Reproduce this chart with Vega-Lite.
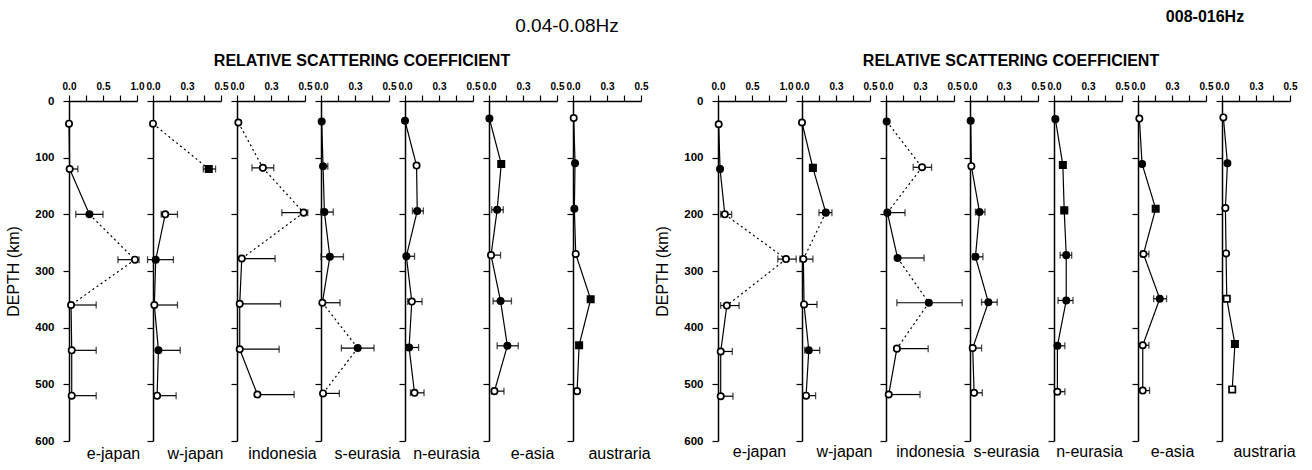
{
"$schema":"https://vega.github.io/schema/vega-lite/v6.json",
"padding":{"left":5,"top":9,"right":5,"bottom":5},
"config":{"background":"white","view":{"stroke":null},
"axis":{"grid":false,"domainColor":"black","tickColor":"black","labelColor":"black","titleColor":"black","labelFont":"Liberation Sans","titleFont":"Liberation Sans","domainWidth":1.5,"tickWidth":1.2,"tickSize":6},
"title":{"orient":"top","anchor":"middle","frame":"group","font":"Liberation Sans","color":"black"}},
"datasets":{"pts":[
{"band":"low","region":"e-japan","depth":40,"value":0.0,"marker":"open","link":"solid"},
{"band":"low","region":"e-japan","depth":120,"value":0.01,"lo":0.01,"hi":0.13,"marker":"open","link":"solid"},
{"band":"low","region":"e-japan","depth":200,"value":0.30,"lo":0.10,"hi":0.50,"marker":"filled","link":"dotted"},
{"band":"low","region":"e-japan","depth":280,"value":0.97,"lo":0.72,"hi":1.03,"marker":"open","link":"dotted"},
{"band":"low","region":"e-japan","depth":360,"value":0.03,"lo":0.03,"hi":0.40,"marker":"open","link":"solid"},
{"band":"low","region":"e-japan","depth":440,"value":0.04,"lo":0.04,"hi":0.40,"marker":"open","link":"solid"},
{"band":"low","region":"e-japan","depth":520,"value":0.04,"lo":0.04,"hi":0.40,"marker":"open","link":"none"},
{"band":"low","region":"w-japan","depth":40,"value":0.0,"marker":"open","link":"dotted"},
{"band":"low","region":"w-japan","depth":120,"value":0.41,"lo":0.37,"hi":0.46,"marker":"square","link":"none"},
{"band":"low","region":"w-japan","depth":200,"value":0.09,"lo":0.06,"hi":0.18,"marker":"open","link":"solid"},
{"band":"low","region":"w-japan","depth":280,"value":0.02,"lo":-0.04,"hi":0.15,"marker":"filled","link":"solid"},
{"band":"low","region":"w-japan","depth":360,"value":0.01,"lo":0.01,"hi":0.18,"marker":"open","link":"solid"},
{"band":"low","region":"w-japan","depth":440,"value":0.04,"lo":0.03,"hi":0.20,"marker":"filled","link":"solid"},
{"band":"low","region":"w-japan","depth":520,"value":0.03,"lo":0.03,"hi":0.17,"marker":"open","link":"none"},
{"band":"low","region":"indonesia","depth":38,"value":0.01,"marker":"open","link":"dotted"},
{"band":"low","region":"indonesia","depth":118,"value":0.19,"lo":0.11,"hi":0.27,"marker":"open","link":"dotted"},
{"band":"low","region":"indonesia","depth":197,"value":0.49,"lo":0.33,"hi":0.52,"marker":"open","link":"dotted"},
{"band":"low","region":"indonesia","depth":278,"value":0.035,"lo":0.035,"hi":0.28,"marker":"open","link":"solid"},
{"band":"low","region":"indonesia","depth":358,"value":0.02,"lo":0.02,"hi":0.32,"marker":"open","link":"solid"},
{"band":"low","region":"indonesia","depth":438,"value":0.02,"lo":0.02,"hi":0.31,"marker":"open","link":"solid"},
{"band":"low","region":"indonesia","depth":518,"value":0.15,"lo":0.15,"hi":0.42,"marker":"open","link":"none"},
{"band":"low","region":"s-eurasia","depth":36,"value":0.005,"marker":"filled","link":"solid"},
{"band":"low","region":"s-eurasia","depth":115,"value":0.015,"lo":0.015,"hi":0.05,"marker":"filled","link":"solid"},
{"band":"low","region":"s-eurasia","depth":196,"value":0.025,"lo":0.0,"hi":0.09,"marker":"filled","link":"solid"},
{"band":"low","region":"s-eurasia","depth":275,"value":0.065,"lo":0.0,"hi":0.165,"marker":"filled","link":"solid"},
{"band":"low","region":"s-eurasia","depth":356,"value":0.01,"lo":0.01,"hi":0.14,"marker":"open","link":"dotted"},
{"band":"low","region":"s-eurasia","depth":436,"value":0.27,"lo":0.15,"hi":0.39,"marker":"filled","link":"dotted"},
{"band":"low","region":"s-eurasia","depth":516,"value":0.015,"lo":0.015,"hi":0.135,"marker":"open","link":"none"},
{"band":"low","region":"n-eurasia","depth":35,"value":0.0,"marker":"filled","link":"solid"},
{"band":"low","region":"n-eurasia","depth":114,"value":0.085,"marker":"open","link":"solid"},
{"band":"low","region":"n-eurasia","depth":194,"value":0.09,"lo":0.055,"hi":0.135,"marker":"filled","link":"solid"},
{"band":"low","region":"n-eurasia","depth":274,"value":0.01,"lo":0.01,"hi":0.07,"marker":"filled","link":"solid"},
{"band":"low","region":"n-eurasia","depth":354,"value":0.05,"lo":0.02,"hi":0.125,"marker":"open","link":"solid"},
{"band":"low","region":"n-eurasia","depth":435,"value":0.03,"lo":0.01,"hi":0.10,"marker":"filled","link":"solid"},
{"band":"low","region":"n-eurasia","depth":515,"value":0.07,"lo":0.04,"hi":0.14,"marker":"open","link":"none"},
{"band":"low","region":"e-asia","depth":31,"value":0.003,"marker":"filled","link":"solid"},
{"band":"low","region":"e-asia","depth":111,"value":0.09,"marker":"square","link":"solid"},
{"band":"low","region":"e-asia","depth":192,"value":0.06,"lo":0.02,"hi":0.105,"marker":"filled","link":"solid"},
{"band":"low","region":"e-asia","depth":272,"value":0.015,"lo":0.015,"hi":0.085,"marker":"open","link":"solid"},
{"band":"low","region":"e-asia","depth":353,"value":0.085,"lo":0.03,"hi":0.165,"marker":"filled","link":"solid"},
{"band":"low","region":"e-asia","depth":432,"value":0.135,"lo":0.06,"hi":0.215,"marker":"filled","link":"solid"},
{"band":"low","region":"e-asia","depth":512,"value":0.04,"lo":0.02,"hi":0.11,"marker":"open","link":"none"},
{"band":"low","region":"austraria","depth":30,"value":0.005,"marker":"open","link":"solid"},
{"band":"low","region":"austraria","depth":110,"value":0.015,"marker":"filled","link":"solid"},
{"band":"low","region":"austraria","depth":190,"value":0.01,"marker":"filled","link":"solid"},
{"band":"low","region":"austraria","depth":270,"value":0.02,"marker":"open","link":"solid"},
{"band":"low","region":"austraria","depth":350,"value":0.13,"marker":"square","link":"solid"},
{"band":"low","region":"austraria","depth":431,"value":0.045,"marker":"square","link":"solid"},
{"band":"low","region":"austraria","depth":512,"value":0.03,"marker":"open","link":"none"},
{"band":"high","region":"e-japan","depth":41,"value":0.01,"marker":"open","link":"solid"},
{"band":"high","region":"e-japan","depth":120,"value":0.03,"lo":0.03,"hi":0.06,"marker":"filled","link":"solid"},
{"band":"high","region":"e-japan","depth":200,"value":0.10,"lo":0.04,"hi":0.20,"marker":"open","link":"dotted"},
{"band":"high","region":"e-japan","depth":279,"value":1.0,"lo":0.88,"hi":1.15,"marker":"open","link":"dotted"},
{"band":"high","region":"e-japan","depth":361,"value":0.13,"lo":0.04,"hi":0.31,"marker":"open","link":"solid"},
{"band":"high","region":"e-japan","depth":442,"value":0.04,"lo":0.04,"hi":0.21,"marker":"open","link":"solid"},
{"band":"high","region":"e-japan","depth":521,"value":0.04,"lo":0.04,"hi":0.22,"marker":"open","link":"none"},
{"band":"high","region":"w-japan","depth":38,"value":0.0,"marker":"open","link":"solid"},
{"band":"high","region":"w-japan","depth":118,"value":0.08,"marker":"square","link":"solid"},
{"band":"high","region":"w-japan","depth":197,"value":0.175,"lo":0.125,"hi":0.22,"marker":"filled","link":"dotted"},
{"band":"high","region":"w-japan","depth":279,"value":0.01,"lo":-0.015,"hi":0.08,"marker":"open","link":"solid"},
{"band":"high","region":"w-japan","depth":359,"value":0.015,"lo":0.015,"hi":0.11,"marker":"open","link":"solid"},
{"band":"high","region":"w-japan","depth":440,"value":0.05,"lo":0.02,"hi":0.13,"marker":"filled","link":"solid"},
{"band":"high","region":"w-japan","depth":520,"value":0.03,"lo":0.03,"hi":0.10,"marker":"open","link":"none"},
{"band":"high","region":"indonesia","depth":36,"value":0.005,"marker":"filled","link":"dotted"},
{"band":"high","region":"indonesia","depth":117,"value":0.265,"lo":0.2,"hi":0.335,"marker":"open","link":"dotted"},
{"band":"high","region":"indonesia","depth":197,"value":0.01,"lo":0.0,"hi":0.14,"marker":"filled","link":"solid"},
{"band":"high","region":"indonesia","depth":277,"value":0.085,"lo":0.085,"hi":0.28,"marker":"filled","link":"dotted"},
{"band":"high","region":"indonesia","depth":356,"value":0.315,"lo":0.08,"hi":0.56,"marker":"filled","link":"dotted"},
{"band":"high","region":"indonesia","depth":437,"value":0.08,"lo":0.08,"hi":0.31,"marker":"open","link":"solid"},
{"band":"high","region":"indonesia","depth":518,"value":0.02,"lo":0.02,"hi":0.25,"marker":"open","link":"none"},
{"band":"high","region":"s-eurasia","depth":35,"value":0.005,"marker":"filled","link":"solid"},
{"band":"high","region":"s-eurasia","depth":115,"value":0.01,"marker":"open","link":"solid"},
{"band":"high","region":"s-eurasia","depth":196,"value":0.07,"lo":0.04,"hi":0.11,"marker":"filled","link":"solid"},
{"band":"high","region":"s-eurasia","depth":275,"value":0.04,"lo":0.02,"hi":0.095,"marker":"filled","link":"solid"},
{"band":"high","region":"s-eurasia","depth":355,"value":0.135,"lo":0.085,"hi":0.2,"marker":"filled","link":"solid"},
{"band":"high","region":"s-eurasia","depth":436,"value":0.02,"lo":0.0,"hi":0.085,"marker":"open","link":"solid"},
{"band":"high","region":"s-eurasia","depth":515,"value":0.03,"lo":0.03,"hi":0.09,"marker":"open","link":"none"},
{"band":"high","region":"n-eurasia","depth":32,"value":0.01,"marker":"filled","link":"solid"},
{"band":"high","region":"n-eurasia","depth":113,"value":0.065,"marker":"square","link":"solid"},
{"band":"high","region":"n-eurasia","depth":193,"value":0.075,"lo":0.06,"hi":0.1,"marker":"square","link":"solid"},
{"band":"high","region":"n-eurasia","depth":272,"value":0.09,"lo":0.045,"hi":0.13,"marker":"filled","link":"solid"},
{"band":"high","region":"n-eurasia","depth":352,"value":0.09,"lo":0.03,"hi":0.14,"marker":"filled","link":"solid"},
{"band":"high","region":"n-eurasia","depth":432,"value":0.025,"lo":0.01,"hi":0.08,"marker":"filled","link":"solid"},
{"band":"high","region":"n-eurasia","depth":513,"value":0.025,"lo":0.01,"hi":0.08,"marker":"open","link":"none"},
{"band":"high","region":"e-asia","depth":31,"value":0.01,"marker":"open","link":"solid"},
{"band":"high","region":"e-asia","depth":111,"value":0.03,"marker":"filled","link":"solid"},
{"band":"high","region":"e-asia","depth":190,"value":0.13,"marker":"square","link":"solid"},
{"band":"high","region":"e-asia","depth":270,"value":0.04,"lo":0.02,"hi":0.08,"marker":"open","link":"solid"},
{"band":"high","region":"e-asia","depth":349,"value":0.16,"lo":0.115,"hi":0.21,"marker":"filled","link":"solid"},
{"band":"high","region":"e-asia","depth":431,"value":0.035,"lo":0.02,"hi":0.08,"marker":"open","link":"solid"},
{"band":"high","region":"e-asia","depth":511,"value":0.035,"lo":0.02,"hi":0.085,"marker":"open","link":"none"},
{"band":"high","region":"austraria","depth":29,"value":0.01,"marker":"open","link":"solid"},
{"band":"high","region":"austraria","depth":110,"value":0.04,"marker":"filled","link":"solid"},
{"band":"high","region":"austraria","depth":189,"value":0.025,"marker":"open","link":"solid"},
{"band":"high","region":"austraria","depth":269,"value":0.03,"marker":"open","link":"solid"},
{"band":"high","region":"austraria","depth":349,"value":0.035,"marker":"osquare","link":"solid"},
{"band":"high","region":"austraria","depth":429,"value":0.095,"marker":"square","link":"solid"},
{"band":"high","region":"austraria","depth":509,"value":0.075,"marker":"osquare","link":"none"}
]},
"data":{"name":"pts"},
"spacing":16,
"bounds":"flush",
"hconcat":[
{"width":68,"height":340,"transform":[{"filter":"datum.band=='low' && datum.region=='e-japan'"}],"resolve":{"axis":{"x":"independent"}},"layer":[
{"transform":[{"window":[{"op":"lead","field":"value","as":"v2"},{"op":"lead","field":"depth","as":"d2"}],"sort":[{"field":"depth"}]},{"filter":"datum.link!='none' && isValid(datum.v2)"}],"mark":{"type":"rule","color":"black","strokeWidth":1.2},"encoding":{"x":{"field":"value","type":"quantitative","title":null,"scale":{"domain":[0,1],"nice":false},"axis":{"orient":"top","values":[0,0.25,0.5,0.75,1],"labelExpr":"datum.value==0?'0.0':datum.value==0.5?'0.5':datum.value==1?'1.0':''","labelFontSize":10,"labelFontWeight":"bold","labelFlush":false,"labelOverlap":false,"labelBound":false,"labelPadding":4,"title":null}},"y":{"field":"depth","type":"quantitative","title":"DEPTH (km)","scale":{"domain":[0,600],"nice":false,"reverse":true},"axis":{"orient":"left","values":[0,100,200,300,400,500,600],"labelPadding":9,"labelFontSize":11.5,"labelFontWeight":"bold","title":"DEPTH (km)","titleFontSize":16,"titleFontWeight":"normal","titlePadding":13}},"x2":{"field":"v2"},"y2":{"field":"d2"},"strokeDash":{"field":"link","type":"nominal","scale":{"domain":["solid","dotted"],"range":[[1,0],[2,3]]},"legend":null}}},
{"transform":[{"filter":"isValid(datum.hi)"}],"mark":{"type":"rule","color":"black","strokeWidth":1.2},"encoding":{"x":{"field":"lo","type":"quantitative","axis":null},"x2":{"field":"hi"},"y":{"field":"depth","type":"quantitative"}}},
{"transform":[{"filter":"isValid(datum.hi)"}],"mark":{"type":"tick","orient":"vertical","color":"black","size":7,"thickness":1.3},"encoding":{"x":{"field":"lo","type":"quantitative","axis":null},"y":{"field":"depth","type":"quantitative"}}},
{"transform":[{"filter":"isValid(datum.hi)"}],"mark":{"type":"tick","orient":"vertical","color":"black","size":7,"thickness":1.3},"encoding":{"x":{"field":"hi","type":"quantitative","axis":null},"y":{"field":"depth","type":"quantitative"}}},
{"mark":{"type":"point","stroke":"black","strokeWidth":1.7,"size":40,"opacity":1},"encoding":{"x":{"field":"value","type":"quantitative","axis":{"orient":"bottom","title":"e-japan","domain":false,"ticks":false,"labels":false,"titleX":44,"titleAlign":"center","titlePadding":4,"titleFontSize":16,"titleFontWeight":"normal"}},"y":{"field":"depth","type":"quantitative"},"shape":{"field":"marker","type":"nominal","scale":{"domain":["open","filled","square","osquare"],"range":["circle","circle","square","square"]},"legend":null},"fill":{"field":"marker","type":"nominal","scale":{"domain":["open","filled","square","osquare"],"range":["white","black","black","white"]},"legend":null}}}]},
{"width":68,"height":340,"transform":[{"filter":"datum.band=='low' && datum.region=='w-japan'"}],"resolve":{"axis":{"x":"independent"}},"layer":[
{"transform":[{"window":[{"op":"lead","field":"value","as":"v2"},{"op":"lead","field":"depth","as":"d2"}],"sort":[{"field":"depth"}]},{"filter":"datum.link!='none' && isValid(datum.v2)"}],"mark":{"type":"rule","color":"black","strokeWidth":1.2},"encoding":{"x":{"field":"value","type":"quantitative","title":null,"scale":{"domain":[0,0.5],"nice":false},"axis":{"orient":"top","values":[0,0.125,0.25,0.375,0.5],"labelExpr":"datum.value==0?'0.0':datum.value==0.25?'0.3':datum.value==0.5?'0.5':''","labelFontSize":10,"labelFontWeight":"bold","labelFlush":false,"labelOverlap":false,"labelBound":false,"labelPadding":4,"title":null}},"y":{"field":"depth","type":"quantitative","title":null,"scale":{"domain":[0,600],"nice":false,"reverse":true},"axis":{"orient":"left","values":[0,100,200,300,400,500,600],"labels":false,"title":null}},"x2":{"field":"v2"},"y2":{"field":"d2"},"strokeDash":{"field":"link","type":"nominal","scale":{"domain":["solid","dotted"],"range":[[1,0],[2,3]]},"legend":null}}},
{"transform":[{"filter":"isValid(datum.hi)"}],"mark":{"type":"rule","color":"black","strokeWidth":1.2},"encoding":{"x":{"field":"lo","type":"quantitative","axis":null},"x2":{"field":"hi"},"y":{"field":"depth","type":"quantitative"}}},
{"transform":[{"filter":"isValid(datum.hi)"}],"mark":{"type":"tick","orient":"vertical","color":"black","size":7,"thickness":1.3},"encoding":{"x":{"field":"lo","type":"quantitative","axis":null},"y":{"field":"depth","type":"quantitative"}}},
{"transform":[{"filter":"isValid(datum.hi)"}],"mark":{"type":"tick","orient":"vertical","color":"black","size":7,"thickness":1.3},"encoding":{"x":{"field":"hi","type":"quantitative","axis":null},"y":{"field":"depth","type":"quantitative"}}},
{"mark":{"type":"point","stroke":"black","strokeWidth":1.7,"size":40,"opacity":1},"encoding":{"x":{"field":"value","type":"quantitative","axis":{"orient":"bottom","title":"w-japan","domain":false,"ticks":false,"labels":false,"titleX":42,"titleAlign":"center","titlePadding":4,"titleFontSize":16,"titleFontWeight":"normal"}},"y":{"field":"depth","type":"quantitative"},"shape":{"field":"marker","type":"nominal","scale":{"domain":["open","filled","square","osquare"],"range":["circle","circle","square","square"]},"legend":null},"fill":{"field":"marker","type":"nominal","scale":{"domain":["open","filled","square","osquare"],"range":["white","black","black","white"]},"legend":null}}}]},
{"width":68,"height":340,"transform":[{"filter":"datum.band=='low' && datum.region=='indonesia'"}],"resolve":{"axis":{"x":"independent"}},"layer":[
{"transform":[{"window":[{"op":"lead","field":"value","as":"v2"},{"op":"lead","field":"depth","as":"d2"}],"sort":[{"field":"depth"}]},{"filter":"datum.link!='none' && isValid(datum.v2)"}],"mark":{"type":"rule","color":"black","strokeWidth":1.2},"encoding":{"x":{"field":"value","type":"quantitative","title":null,"scale":{"domain":[0,0.5],"nice":false},"axis":{"orient":"top","values":[0,0.125,0.25,0.375,0.5],"labelExpr":"datum.value==0?'0.0':datum.value==0.25?'0.3':datum.value==0.5?'0.5':''","labelFontSize":10,"labelFontWeight":"bold","labelFlush":false,"labelOverlap":false,"labelBound":false,"labelPadding":4,"title":null}},"y":{"field":"depth","type":"quantitative","title":null,"scale":{"domain":[0,600],"nice":false,"reverse":true},"axis":{"orient":"left","values":[0,100,200,300,400,500,600],"labels":false,"title":null}},"x2":{"field":"v2"},"y2":{"field":"d2"},"strokeDash":{"field":"link","type":"nominal","scale":{"domain":["solid","dotted"],"range":[[1,0],[2,3]]},"legend":null}}},
{"transform":[{"filter":"isValid(datum.hi)"}],"mark":{"type":"rule","color":"black","strokeWidth":1.2},"encoding":{"x":{"field":"lo","type":"quantitative","axis":null},"x2":{"field":"hi"},"y":{"field":"depth","type":"quantitative"}}},
{"transform":[{"filter":"isValid(datum.hi)"}],"mark":{"type":"tick","orient":"vertical","color":"black","size":7,"thickness":1.3},"encoding":{"x":{"field":"lo","type":"quantitative","axis":null},"y":{"field":"depth","type":"quantitative"}}},
{"transform":[{"filter":"isValid(datum.hi)"}],"mark":{"type":"tick","orient":"vertical","color":"black","size":7,"thickness":1.3},"encoding":{"x":{"field":"hi","type":"quantitative","axis":null},"y":{"field":"depth","type":"quantitative"}}},
{"mark":{"type":"point","stroke":"black","strokeWidth":1.7,"size":40,"opacity":1},"encoding":{"x":{"field":"value","type":"quantitative","axis":{"orient":"bottom","title":"indonesia","domain":false,"ticks":false,"labels":false,"titleX":45,"titleAlign":"center","titlePadding":4,"titleFontSize":16,"titleFontWeight":"normal"}},"y":{"field":"depth","type":"quantitative"},"shape":{"field":"marker","type":"nominal","scale":{"domain":["open","filled","square","osquare"],"range":["circle","circle","square","square"]},"legend":null},"fill":{"field":"marker","type":"nominal","scale":{"domain":["open","filled","square","osquare"],"range":["white","black","black","white"]},"legend":null}}}]},
{"width":68,"height":340,"title":{"text":"RELATIVE SCATTERING COEFFICIENT","dx":7,"offset":12,"fontSize":16,"fontWeight":"bold"},"transform":[{"filter":"datum.band=='low' && datum.region=='s-eurasia'"}],"resolve":{"axis":{"x":"independent"}},"layer":[
{"transform":[{"window":[{"op":"lead","field":"value","as":"v2"},{"op":"lead","field":"depth","as":"d2"}],"sort":[{"field":"depth"}]},{"filter":"datum.link!='none' && isValid(datum.v2)"}],"mark":{"type":"rule","color":"black","strokeWidth":1.2},"encoding":{"x":{"field":"value","type":"quantitative","title":null,"scale":{"domain":[0,0.5],"nice":false},"axis":{"orient":"top","values":[0,0.125,0.25,0.375,0.5],"labelExpr":"datum.value==0?'0.0':datum.value==0.25?'0.3':datum.value==0.5?'0.5':''","labelFontSize":10,"labelFontWeight":"bold","labelFlush":false,"labelOverlap":false,"labelBound":false,"labelPadding":4,"title":null}},"y":{"field":"depth","type":"quantitative","title":null,"scale":{"domain":[0,600],"nice":false,"reverse":true},"axis":{"orient":"left","values":[0,100,200,300,400,500,600],"labels":false,"title":null}},"x2":{"field":"v2"},"y2":{"field":"d2"},"strokeDash":{"field":"link","type":"nominal","scale":{"domain":["solid","dotted"],"range":[[1,0],[2,3]]},"legend":null}}},
{"transform":[{"filter":"isValid(datum.hi)"}],"mark":{"type":"rule","color":"black","strokeWidth":1.2},"encoding":{"x":{"field":"lo","type":"quantitative","axis":null},"x2":{"field":"hi"},"y":{"field":"depth","type":"quantitative"}}},
{"transform":[{"filter":"isValid(datum.hi)"}],"mark":{"type":"tick","orient":"vertical","color":"black","size":7,"thickness":1.3},"encoding":{"x":{"field":"lo","type":"quantitative","axis":null},"y":{"field":"depth","type":"quantitative"}}},
{"transform":[{"filter":"isValid(datum.hi)"}],"mark":{"type":"tick","orient":"vertical","color":"black","size":7,"thickness":1.3},"encoding":{"x":{"field":"hi","type":"quantitative","axis":null},"y":{"field":"depth","type":"quantitative"}}},
{"mark":{"type":"point","stroke":"black","strokeWidth":1.7,"size":40,"opacity":1},"encoding":{"x":{"field":"value","type":"quantitative","axis":{"orient":"bottom","title":"s-eurasia","domain":false,"ticks":false,"labels":false,"titleX":46,"titleAlign":"center","titlePadding":4,"titleFontSize":16,"titleFontWeight":"normal"}},"y":{"field":"depth","type":"quantitative"},"shape":{"field":"marker","type":"nominal","scale":{"domain":["open","filled","square","osquare"],"range":["circle","circle","square","square"]},"legend":null},"fill":{"field":"marker","type":"nominal","scale":{"domain":["open","filled","square","osquare"],"range":["white","black","black","white"]},"legend":null}}}]},
{"width":68,"height":340,"transform":[{"filter":"datum.band=='low' && datum.region=='n-eurasia'"}],"resolve":{"axis":{"x":"independent"}},"layer":[
{"transform":[{"window":[{"op":"lead","field":"value","as":"v2"},{"op":"lead","field":"depth","as":"d2"}],"sort":[{"field":"depth"}]},{"filter":"datum.link!='none' && isValid(datum.v2)"}],"mark":{"type":"rule","color":"black","strokeWidth":1.2},"encoding":{"x":{"field":"value","type":"quantitative","title":null,"scale":{"domain":[0,0.5],"nice":false},"axis":{"orient":"top","values":[0,0.125,0.25,0.375,0.5],"labelExpr":"datum.value==0?'0.0':datum.value==0.25?'0.3':datum.value==0.5?'0.5':''","labelFontSize":10,"labelFontWeight":"bold","labelFlush":false,"labelOverlap":false,"labelBound":false,"labelPadding":4,"title":null}},"y":{"field":"depth","type":"quantitative","title":null,"scale":{"domain":[0,600],"nice":false,"reverse":true},"axis":{"orient":"left","values":[0,100,200,300,400,500,600],"labels":false,"title":null}},"x2":{"field":"v2"},"y2":{"field":"d2"},"strokeDash":{"field":"link","type":"nominal","scale":{"domain":["solid","dotted"],"range":[[1,0],[2,3]]},"legend":null}}},
{"transform":[{"filter":"isValid(datum.hi)"}],"mark":{"type":"rule","color":"black","strokeWidth":1.2},"encoding":{"x":{"field":"lo","type":"quantitative","axis":null},"x2":{"field":"hi"},"y":{"field":"depth","type":"quantitative"}}},
{"transform":[{"filter":"isValid(datum.hi)"}],"mark":{"type":"tick","orient":"vertical","color":"black","size":7,"thickness":1.3},"encoding":{"x":{"field":"lo","type":"quantitative","axis":null},"y":{"field":"depth","type":"quantitative"}}},
{"transform":[{"filter":"isValid(datum.hi)"}],"mark":{"type":"tick","orient":"vertical","color":"black","size":7,"thickness":1.3},"encoding":{"x":{"field":"hi","type":"quantitative","axis":null},"y":{"field":"depth","type":"quantitative"}}},
{"mark":{"type":"point","stroke":"black","strokeWidth":1.7,"size":40,"opacity":1},"encoding":{"x":{"field":"value","type":"quantitative","axis":{"orient":"bottom","title":"n-eurasia","domain":false,"ticks":false,"labels":false,"titleX":41,"titleAlign":"center","titlePadding":4,"titleFontSize":16,"titleFontWeight":"normal"}},"y":{"field":"depth","type":"quantitative"},"shape":{"field":"marker","type":"nominal","scale":{"domain":["open","filled","square","osquare"],"range":["circle","circle","square","square"]},"legend":null},"fill":{"field":"marker","type":"nominal","scale":{"domain":["open","filled","square","osquare"],"range":["white","black","black","white"]},"legend":null}}}]},
{"width":68,"height":340,"title":{"text":"0.04-0.08Hz","dx":44,"offset":45,"fontSize":19,"fontWeight":"normal"},"transform":[{"filter":"datum.band=='low' && datum.region=='e-asia'"}],"resolve":{"axis":{"x":"independent"}},"layer":[
{"transform":[{"window":[{"op":"lead","field":"value","as":"v2"},{"op":"lead","field":"depth","as":"d2"}],"sort":[{"field":"depth"}]},{"filter":"datum.link!='none' && isValid(datum.v2)"}],"mark":{"type":"rule","color":"black","strokeWidth":1.2},"encoding":{"x":{"field":"value","type":"quantitative","title":null,"scale":{"domain":[0,0.5],"nice":false},"axis":{"orient":"top","values":[0,0.125,0.25,0.375,0.5],"labelExpr":"datum.value==0?'0.0':datum.value==0.25?'0.3':datum.value==0.5?'0.5':''","labelFontSize":10,"labelFontWeight":"bold","labelFlush":false,"labelOverlap":false,"labelBound":false,"labelPadding":4,"title":null}},"y":{"field":"depth","type":"quantitative","title":null,"scale":{"domain":[0,600],"nice":false,"reverse":true},"axis":{"orient":"left","values":[0,100,200,300,400,500,600],"labels":false,"title":null}},"x2":{"field":"v2"},"y2":{"field":"d2"},"strokeDash":{"field":"link","type":"nominal","scale":{"domain":["solid","dotted"],"range":[[1,0],[2,3]]},"legend":null}}},
{"transform":[{"filter":"isValid(datum.hi)"}],"mark":{"type":"rule","color":"black","strokeWidth":1.2},"encoding":{"x":{"field":"lo","type":"quantitative","axis":null},"x2":{"field":"hi"},"y":{"field":"depth","type":"quantitative"}}},
{"transform":[{"filter":"isValid(datum.hi)"}],"mark":{"type":"tick","orient":"vertical","color":"black","size":7,"thickness":1.3},"encoding":{"x":{"field":"lo","type":"quantitative","axis":null},"y":{"field":"depth","type":"quantitative"}}},
{"transform":[{"filter":"isValid(datum.hi)"}],"mark":{"type":"tick","orient":"vertical","color":"black","size":7,"thickness":1.3},"encoding":{"x":{"field":"hi","type":"quantitative","axis":null},"y":{"field":"depth","type":"quantitative"}}},
{"mark":{"type":"point","stroke":"black","strokeWidth":1.7,"size":40,"opacity":1},"encoding":{"x":{"field":"value","type":"quantitative","axis":{"orient":"bottom","title":"e-asia","domain":false,"ticks":false,"labels":false,"titleX":43,"titleAlign":"center","titlePadding":4,"titleFontSize":16,"titleFontWeight":"normal"}},"y":{"field":"depth","type":"quantitative"},"shape":{"field":"marker","type":"nominal","scale":{"domain":["open","filled","square","osquare"],"range":["circle","circle","square","square"]},"legend":null},"fill":{"field":"marker","type":"nominal","scale":{"domain":["open","filled","square","osquare"],"range":["white","black","black","white"]},"legend":null}}}]},
{"width":68,"height":340,"transform":[{"filter":"datum.band=='low' && datum.region=='austraria'"}],"resolve":{"axis":{"x":"independent"}},"layer":[
{"transform":[{"window":[{"op":"lead","field":"value","as":"v2"},{"op":"lead","field":"depth","as":"d2"}],"sort":[{"field":"depth"}]},{"filter":"datum.link!='none' && isValid(datum.v2)"}],"mark":{"type":"rule","color":"black","strokeWidth":1.2},"encoding":{"x":{"field":"value","type":"quantitative","title":null,"scale":{"domain":[0,0.5],"nice":false},"axis":{"orient":"top","values":[0,0.125,0.25,0.375,0.5],"labelExpr":"datum.value==0?'0.0':datum.value==0.25?'0.3':datum.value==0.5?'0.5':''","labelFontSize":10,"labelFontWeight":"bold","labelFlush":false,"labelOverlap":false,"labelBound":false,"labelPadding":4,"title":null}},"y":{"field":"depth","type":"quantitative","title":null,"scale":{"domain":[0,600],"nice":false,"reverse":true},"axis":{"orient":"left","values":[0,100,200,300,400,500,600],"labels":false,"title":null}},"x2":{"field":"v2"},"y2":{"field":"d2"},"strokeDash":{"field":"link","type":"nominal","scale":{"domain":["solid","dotted"],"range":[[1,0],[2,3]]},"legend":null}}},
{"transform":[{"filter":"isValid(datum.hi)"}],"mark":{"type":"rule","color":"black","strokeWidth":1.2},"encoding":{"x":{"field":"lo","type":"quantitative","axis":null},"x2":{"field":"hi"},"y":{"field":"depth","type":"quantitative"}}},
{"transform":[{"filter":"isValid(datum.hi)"}],"mark":{"type":"tick","orient":"vertical","color":"black","size":7,"thickness":1.3},"encoding":{"x":{"field":"lo","type":"quantitative","axis":null},"y":{"field":"depth","type":"quantitative"}}},
{"transform":[{"filter":"isValid(datum.hi)"}],"mark":{"type":"tick","orient":"vertical","color":"black","size":7,"thickness":1.3},"encoding":{"x":{"field":"hi","type":"quantitative","axis":null},"y":{"field":"depth","type":"quantitative"}}},
{"mark":{"type":"point","stroke":"black","strokeWidth":1.7,"size":40,"opacity":1},"encoding":{"x":{"field":"value","type":"quantitative","axis":{"orient":"bottom","title":"austraria","domain":false,"ticks":false,"labels":false,"titleX":46,"titleAlign":"center","titlePadding":4,"titleFontSize":16,"titleFontWeight":"normal"}},"y":{"field":"depth","type":"quantitative"},"shape":{"field":"marker","type":"nominal","scale":{"domain":["open","filled","square","osquare"],"range":["circle","circle","square","square"]},"legend":null},"fill":{"field":"marker","type":"nominal","scale":{"domain":["open","filled","square","osquare"],"range":["white","black","black","white"]},"legend":null}}}]},
{"width":45,"height":340,"data":{"values":[]},"mark":"point"},
{"width":68,"height":340,"transform":[{"filter":"datum.band=='high' && datum.region=='e-japan'"}],"resolve":{"axis":{"x":"independent"}},"layer":[
{"transform":[{"window":[{"op":"lead","field":"value","as":"v2"},{"op":"lead","field":"depth","as":"d2"}],"sort":[{"field":"depth"}]},{"filter":"datum.link!='none' && isValid(datum.v2)"}],"mark":{"type":"rule","color":"black","strokeWidth":1.2},"encoding":{"x":{"field":"value","type":"quantitative","title":null,"scale":{"domain":[0,1],"nice":false},"axis":{"orient":"top","values":[0,0.25,0.5,0.75,1],"labelExpr":"datum.value==0?'0.0':datum.value==0.5?'0.5':datum.value==1?'1.0':''","labelFontSize":10,"labelFontWeight":"bold","labelFlush":false,"labelOverlap":false,"labelBound":false,"labelPadding":4,"title":null}},"y":{"field":"depth","type":"quantitative","title":"DEPTH (km)","scale":{"domain":[0,600],"nice":false,"reverse":true},"axis":{"orient":"left","values":[0,100,200,300,400,500,600],"labelPadding":9,"labelFontSize":11.5,"labelFontWeight":"bold","title":"DEPTH (km)","titleFontSize":16,"titleFontWeight":"normal","titlePadding":13}},"x2":{"field":"v2"},"y2":{"field":"d2"},"strokeDash":{"field":"link","type":"nominal","scale":{"domain":["solid","dotted"],"range":[[1,0],[2,3]]},"legend":null}}},
{"transform":[{"filter":"isValid(datum.hi)"}],"mark":{"type":"rule","color":"black","strokeWidth":1.2},"encoding":{"x":{"field":"lo","type":"quantitative","axis":null},"x2":{"field":"hi"},"y":{"field":"depth","type":"quantitative"}}},
{"transform":[{"filter":"isValid(datum.hi)"}],"mark":{"type":"tick","orient":"vertical","color":"black","size":7,"thickness":1.3},"encoding":{"x":{"field":"lo","type":"quantitative","axis":null},"y":{"field":"depth","type":"quantitative"}}},
{"transform":[{"filter":"isValid(datum.hi)"}],"mark":{"type":"tick","orient":"vertical","color":"black","size":7,"thickness":1.3},"encoding":{"x":{"field":"hi","type":"quantitative","axis":null},"y":{"field":"depth","type":"quantitative"}}},
{"mark":{"type":"point","stroke":"black","strokeWidth":1.7,"size":40,"opacity":1},"encoding":{"x":{"field":"value","type":"quantitative","axis":{"orient":"bottom","title":"e-japan","domain":false,"ticks":false,"labels":false,"titleX":41,"titleAlign":"center","titlePadding":2,"titleFontSize":16,"titleFontWeight":"normal"}},"y":{"field":"depth","type":"quantitative"},"shape":{"field":"marker","type":"nominal","scale":{"domain":["open","filled","square","osquare"],"range":["circle","circle","square","square"]},"legend":null},"fill":{"field":"marker","type":"nominal","scale":{"domain":["open","filled","square","osquare"],"range":["white","black","black","white"]},"legend":null}}}]},
{"width":68,"height":340,"transform":[{"filter":"datum.band=='high' && datum.region=='w-japan'"}],"resolve":{"axis":{"x":"independent"}},"layer":[
{"transform":[{"window":[{"op":"lead","field":"value","as":"v2"},{"op":"lead","field":"depth","as":"d2"}],"sort":[{"field":"depth"}]},{"filter":"datum.link!='none' && isValid(datum.v2)"}],"mark":{"type":"rule","color":"black","strokeWidth":1.2},"encoding":{"x":{"field":"value","type":"quantitative","title":null,"scale":{"domain":[0,0.5],"nice":false},"axis":{"orient":"top","values":[0,0.125,0.25,0.375,0.5],"labelExpr":"datum.value==0?'0.0':datum.value==0.25?'0.3':datum.value==0.5?'0.5':''","labelFontSize":10,"labelFontWeight":"bold","labelFlush":false,"labelOverlap":false,"labelBound":false,"labelPadding":4,"title":null}},"y":{"field":"depth","type":"quantitative","title":null,"scale":{"domain":[0,600],"nice":false,"reverse":true},"axis":{"orient":"left","values":[0,100,200,300,400,500,600],"labels":false,"title":null}},"x2":{"field":"v2"},"y2":{"field":"d2"},"strokeDash":{"field":"link","type":"nominal","scale":{"domain":["solid","dotted"],"range":[[1,0],[2,3]]},"legend":null}}},
{"transform":[{"filter":"isValid(datum.hi)"}],"mark":{"type":"rule","color":"black","strokeWidth":1.2},"encoding":{"x":{"field":"lo","type":"quantitative","axis":null},"x2":{"field":"hi"},"y":{"field":"depth","type":"quantitative"}}},
{"transform":[{"filter":"isValid(datum.hi)"}],"mark":{"type":"tick","orient":"vertical","color":"black","size":7,"thickness":1.3},"encoding":{"x":{"field":"lo","type":"quantitative","axis":null},"y":{"field":"depth","type":"quantitative"}}},
{"transform":[{"filter":"isValid(datum.hi)"}],"mark":{"type":"tick","orient":"vertical","color":"black","size":7,"thickness":1.3},"encoding":{"x":{"field":"hi","type":"quantitative","axis":null},"y":{"field":"depth","type":"quantitative"}}},
{"mark":{"type":"point","stroke":"black","strokeWidth":1.7,"size":40,"opacity":1},"encoding":{"x":{"field":"value","type":"quantitative","axis":{"orient":"bottom","title":"w-japan","domain":false,"ticks":false,"labels":false,"titleX":42,"titleAlign":"center","titlePadding":2,"titleFontSize":16,"titleFontWeight":"normal"}},"y":{"field":"depth","type":"quantitative"},"shape":{"field":"marker","type":"nominal","scale":{"domain":["open","filled","square","osquare"],"range":["circle","circle","square","square"]},"legend":null},"fill":{"field":"marker","type":"nominal","scale":{"domain":["open","filled","square","osquare"],"range":["white","black","black","white"]},"legend":null}}}]},
{"width":68,"height":340,"transform":[{"filter":"datum.band=='high' && datum.region=='indonesia'"}],"resolve":{"axis":{"x":"independent"}},"layer":[
{"transform":[{"window":[{"op":"lead","field":"value","as":"v2"},{"op":"lead","field":"depth","as":"d2"}],"sort":[{"field":"depth"}]},{"filter":"datum.link!='none' && isValid(datum.v2)"}],"mark":{"type":"rule","color":"black","strokeWidth":1.2},"encoding":{"x":{"field":"value","type":"quantitative","title":null,"scale":{"domain":[0,0.5],"nice":false},"axis":{"orient":"top","values":[0,0.125,0.25,0.375,0.5],"labelExpr":"datum.value==0?'0.0':datum.value==0.25?'0.3':datum.value==0.5?'0.5':''","labelFontSize":10,"labelFontWeight":"bold","labelFlush":false,"labelOverlap":false,"labelBound":false,"labelPadding":4,"title":null}},"y":{"field":"depth","type":"quantitative","title":null,"scale":{"domain":[0,600],"nice":false,"reverse":true},"axis":{"orient":"left","values":[0,100,200,300,400,500,600],"labels":false,"title":null}},"x2":{"field":"v2"},"y2":{"field":"d2"},"strokeDash":{"field":"link","type":"nominal","scale":{"domain":["solid","dotted"],"range":[[1,0],[2,3]]},"legend":null}}},
{"transform":[{"filter":"isValid(datum.hi)"}],"mark":{"type":"rule","color":"black","strokeWidth":1.2},"encoding":{"x":{"field":"lo","type":"quantitative","axis":null},"x2":{"field":"hi"},"y":{"field":"depth","type":"quantitative"}}},
{"transform":[{"filter":"isValid(datum.hi)"}],"mark":{"type":"tick","orient":"vertical","color":"black","size":7,"thickness":1.3},"encoding":{"x":{"field":"lo","type":"quantitative","axis":null},"y":{"field":"depth","type":"quantitative"}}},
{"transform":[{"filter":"isValid(datum.hi)"}],"mark":{"type":"tick","orient":"vertical","color":"black","size":7,"thickness":1.3},"encoding":{"x":{"field":"hi","type":"quantitative","axis":null},"y":{"field":"depth","type":"quantitative"}}},
{"mark":{"type":"point","stroke":"black","strokeWidth":1.7,"size":40,"opacity":1},"encoding":{"x":{"field":"value","type":"quantitative","axis":{"orient":"bottom","title":"indonesia","domain":false,"ticks":false,"labels":false,"titleX":44,"titleAlign":"center","titlePadding":2,"titleFontSize":16,"titleFontWeight":"normal"}},"y":{"field":"depth","type":"quantitative"},"shape":{"field":"marker","type":"nominal","scale":{"domain":["open","filled","square","osquare"],"range":["circle","circle","square","square"]},"legend":null},"fill":{"field":"marker","type":"nominal","scale":{"domain":["open","filled","square","osquare"],"range":["white","black","black","white"]},"legend":null}}}]},
{"width":68,"height":340,"title":{"text":"RELATIVE SCATTERING COEFFICIENT","dx":7,"offset":12,"fontSize":16,"fontWeight":"bold"},"transform":[{"filter":"datum.band=='high' && datum.region=='s-eurasia'"}],"resolve":{"axis":{"x":"independent"}},"layer":[
{"transform":[{"window":[{"op":"lead","field":"value","as":"v2"},{"op":"lead","field":"depth","as":"d2"}],"sort":[{"field":"depth"}]},{"filter":"datum.link!='none' && isValid(datum.v2)"}],"mark":{"type":"rule","color":"black","strokeWidth":1.2},"encoding":{"x":{"field":"value","type":"quantitative","title":null,"scale":{"domain":[0,0.5],"nice":false},"axis":{"orient":"top","values":[0,0.125,0.25,0.375,0.5],"labelExpr":"datum.value==0?'0.0':datum.value==0.25?'0.3':datum.value==0.5?'0.5':''","labelFontSize":10,"labelFontWeight":"bold","labelFlush":false,"labelOverlap":false,"labelBound":false,"labelPadding":4,"title":null}},"y":{"field":"depth","type":"quantitative","title":null,"scale":{"domain":[0,600],"nice":false,"reverse":true},"axis":{"orient":"left","values":[0,100,200,300,400,500,600],"labels":false,"title":null}},"x2":{"field":"v2"},"y2":{"field":"d2"},"strokeDash":{"field":"link","type":"nominal","scale":{"domain":["solid","dotted"],"range":[[1,0],[2,3]]},"legend":null}}},
{"transform":[{"filter":"isValid(datum.hi)"}],"mark":{"type":"rule","color":"black","strokeWidth":1.2},"encoding":{"x":{"field":"lo","type":"quantitative","axis":null},"x2":{"field":"hi"},"y":{"field":"depth","type":"quantitative"}}},
{"transform":[{"filter":"isValid(datum.hi)"}],"mark":{"type":"tick","orient":"vertical","color":"black","size":7,"thickness":1.3},"encoding":{"x":{"field":"lo","type":"quantitative","axis":null},"y":{"field":"depth","type":"quantitative"}}},
{"transform":[{"filter":"isValid(datum.hi)"}],"mark":{"type":"tick","orient":"vertical","color":"black","size":7,"thickness":1.3},"encoding":{"x":{"field":"hi","type":"quantitative","axis":null},"y":{"field":"depth","type":"quantitative"}}},
{"mark":{"type":"point","stroke":"black","strokeWidth":1.7,"size":40,"opacity":1},"encoding":{"x":{"field":"value","type":"quantitative","axis":{"orient":"bottom","title":"s-eurasia","domain":false,"ticks":false,"labels":false,"titleX":36,"titleAlign":"center","titlePadding":2,"titleFontSize":16,"titleFontWeight":"normal"}},"y":{"field":"depth","type":"quantitative"},"shape":{"field":"marker","type":"nominal","scale":{"domain":["open","filled","square","osquare"],"range":["circle","circle","square","square"]},"legend":null},"fill":{"field":"marker","type":"nominal","scale":{"domain":["open","filled","square","osquare"],"range":["white","black","black","white"]},"legend":null}}}]},
{"width":68,"height":340,"transform":[{"filter":"datum.band=='high' && datum.region=='n-eurasia'"}],"resolve":{"axis":{"x":"independent"}},"layer":[
{"transform":[{"window":[{"op":"lead","field":"value","as":"v2"},{"op":"lead","field":"depth","as":"d2"}],"sort":[{"field":"depth"}]},{"filter":"datum.link!='none' && isValid(datum.v2)"}],"mark":{"type":"rule","color":"black","strokeWidth":1.2},"encoding":{"x":{"field":"value","type":"quantitative","title":null,"scale":{"domain":[0,0.5],"nice":false},"axis":{"orient":"top","values":[0,0.125,0.25,0.375,0.5],"labelExpr":"datum.value==0?'0.0':datum.value==0.25?'0.3':datum.value==0.5?'0.5':''","labelFontSize":10,"labelFontWeight":"bold","labelFlush":false,"labelOverlap":false,"labelBound":false,"labelPadding":4,"title":null}},"y":{"field":"depth","type":"quantitative","title":null,"scale":{"domain":[0,600],"nice":false,"reverse":true},"axis":{"orient":"left","values":[0,100,200,300,400,500,600],"labels":false,"title":null}},"x2":{"field":"v2"},"y2":{"field":"d2"},"strokeDash":{"field":"link","type":"nominal","scale":{"domain":["solid","dotted"],"range":[[1,0],[2,3]]},"legend":null}}},
{"transform":[{"filter":"isValid(datum.hi)"}],"mark":{"type":"rule","color":"black","strokeWidth":1.2},"encoding":{"x":{"field":"lo","type":"quantitative","axis":null},"x2":{"field":"hi"},"y":{"field":"depth","type":"quantitative"}}},
{"transform":[{"filter":"isValid(datum.hi)"}],"mark":{"type":"tick","orient":"vertical","color":"black","size":7,"thickness":1.3},"encoding":{"x":{"field":"lo","type":"quantitative","axis":null},"y":{"field":"depth","type":"quantitative"}}},
{"transform":[{"filter":"isValid(datum.hi)"}],"mark":{"type":"tick","orient":"vertical","color":"black","size":7,"thickness":1.3},"encoding":{"x":{"field":"hi","type":"quantitative","axis":null},"y":{"field":"depth","type":"quantitative"}}},
{"mark":{"type":"point","stroke":"black","strokeWidth":1.7,"size":40,"opacity":1},"encoding":{"x":{"field":"value","type":"quantitative","axis":{"orient":"bottom","title":"n-eurasia","domain":false,"ticks":false,"labels":false,"titleX":35,"titleAlign":"center","titlePadding":2,"titleFontSize":16,"titleFontWeight":"normal"}},"y":{"field":"depth","type":"quantitative"},"shape":{"field":"marker","type":"nominal","scale":{"domain":["open","filled","square","osquare"],"range":["circle","circle","square","square"]},"legend":null},"fill":{"field":"marker","type":"nominal","scale":{"domain":["open","filled","square","osquare"],"range":["white","black","black","white"]},"legend":null}}}]},
{"width":68,"height":340,"title":{"text":"008-016Hz","dx":33,"offset":56,"fontSize":16,"fontWeight":"bold"},"transform":[{"filter":"datum.band=='high' && datum.region=='e-asia'"}],"resolve":{"axis":{"x":"independent"}},"layer":[
{"transform":[{"window":[{"op":"lead","field":"value","as":"v2"},{"op":"lead","field":"depth","as":"d2"}],"sort":[{"field":"depth"}]},{"filter":"datum.link!='none' && isValid(datum.v2)"}],"mark":{"type":"rule","color":"black","strokeWidth":1.2},"encoding":{"x":{"field":"value","type":"quantitative","title":null,"scale":{"domain":[0,0.5],"nice":false},"axis":{"orient":"top","values":[0,0.125,0.25,0.375,0.5],"labelExpr":"datum.value==0?'0.0':datum.value==0.25?'0.3':datum.value==0.5?'0.5':''","labelFontSize":10,"labelFontWeight":"bold","labelFlush":false,"labelOverlap":false,"labelBound":false,"labelPadding":4,"title":null}},"y":{"field":"depth","type":"quantitative","title":null,"scale":{"domain":[0,600],"nice":false,"reverse":true},"axis":{"orient":"left","values":[0,100,200,300,400,500,600],"labels":false,"title":null}},"x2":{"field":"v2"},"y2":{"field":"d2"},"strokeDash":{"field":"link","type":"nominal","scale":{"domain":["solid","dotted"],"range":[[1,0],[2,3]]},"legend":null}}},
{"transform":[{"filter":"isValid(datum.hi)"}],"mark":{"type":"rule","color":"black","strokeWidth":1.2},"encoding":{"x":{"field":"lo","type":"quantitative","axis":null},"x2":{"field":"hi"},"y":{"field":"depth","type":"quantitative"}}},
{"transform":[{"filter":"isValid(datum.hi)"}],"mark":{"type":"tick","orient":"vertical","color":"black","size":7,"thickness":1.3},"encoding":{"x":{"field":"lo","type":"quantitative","axis":null},"y":{"field":"depth","type":"quantitative"}}},
{"transform":[{"filter":"isValid(datum.hi)"}],"mark":{"type":"tick","orient":"vertical","color":"black","size":7,"thickness":1.3},"encoding":{"x":{"field":"hi","type":"quantitative","axis":null},"y":{"field":"depth","type":"quantitative"}}},
{"mark":{"type":"point","stroke":"black","strokeWidth":1.7,"size":40,"opacity":1},"encoding":{"x":{"field":"value","type":"quantitative","axis":{"orient":"bottom","title":"e-asia","domain":false,"ticks":false,"labels":false,"titleX":34,"titleAlign":"center","titlePadding":2,"titleFontSize":16,"titleFontWeight":"normal"}},"y":{"field":"depth","type":"quantitative"},"shape":{"field":"marker","type":"nominal","scale":{"domain":["open","filled","square","osquare"],"range":["circle","circle","square","square"]},"legend":null},"fill":{"field":"marker","type":"nominal","scale":{"domain":["open","filled","square","osquare"],"range":["white","black","black","white"]},"legend":null}}}]},
{"width":68,"height":340,"transform":[{"filter":"datum.band=='high' && datum.region=='austraria'"}],"resolve":{"axis":{"x":"independent"}},"layer":[
{"transform":[{"window":[{"op":"lead","field":"value","as":"v2"},{"op":"lead","field":"depth","as":"d2"}],"sort":[{"field":"depth"}]},{"filter":"datum.link!='none' && isValid(datum.v2)"}],"mark":{"type":"rule","color":"black","strokeWidth":1.2},"encoding":{"x":{"field":"value","type":"quantitative","title":null,"scale":{"domain":[0,0.5],"nice":false},"axis":{"orient":"top","values":[0,0.125,0.25,0.375,0.5],"labelExpr":"datum.value==0?'0.0':datum.value==0.25?'0.3':datum.value==0.5?'0.5':''","labelFontSize":10,"labelFontWeight":"bold","labelFlush":false,"labelOverlap":false,"labelBound":false,"labelPadding":4,"title":null}},"y":{"field":"depth","type":"quantitative","title":null,"scale":{"domain":[0,600],"nice":false,"reverse":true},"axis":{"orient":"left","values":[0,100,200,300,400,500,600],"labels":false,"title":null}},"x2":{"field":"v2"},"y2":{"field":"d2"},"strokeDash":{"field":"link","type":"nominal","scale":{"domain":["solid","dotted"],"range":[[1,0],[2,3]]},"legend":null}}},
{"transform":[{"filter":"isValid(datum.hi)"}],"mark":{"type":"rule","color":"black","strokeWidth":1.2},"encoding":{"x":{"field":"lo","type":"quantitative","axis":null},"x2":{"field":"hi"},"y":{"field":"depth","type":"quantitative"}}},
{"transform":[{"filter":"isValid(datum.hi)"}],"mark":{"type":"tick","orient":"vertical","color":"black","size":7,"thickness":1.3},"encoding":{"x":{"field":"lo","type":"quantitative","axis":null},"y":{"field":"depth","type":"quantitative"}}},
{"transform":[{"filter":"isValid(datum.hi)"}],"mark":{"type":"tick","orient":"vertical","color":"black","size":7,"thickness":1.3},"encoding":{"x":{"field":"hi","type":"quantitative","axis":null},"y":{"field":"depth","type":"quantitative"}}},
{"mark":{"type":"point","stroke":"black","strokeWidth":1.7,"size":40,"opacity":1},"encoding":{"x":{"field":"value","type":"quantitative","axis":{"orient":"bottom","title":"austraria","domain":false,"ticks":false,"labels":false,"titleX":42,"titleAlign":"center","titlePadding":2,"titleFontSize":16,"titleFontWeight":"normal"}},"y":{"field":"depth","type":"quantitative"},"shape":{"field":"marker","type":"nominal","scale":{"domain":["open","filled","square","osquare"],"range":["circle","circle","square","square"]},"legend":null},"fill":{"field":"marker","type":"nominal","scale":{"domain":["open","filled","square","osquare"],"range":["white","black","black","white"]},"legend":null}}}]}
]
}
